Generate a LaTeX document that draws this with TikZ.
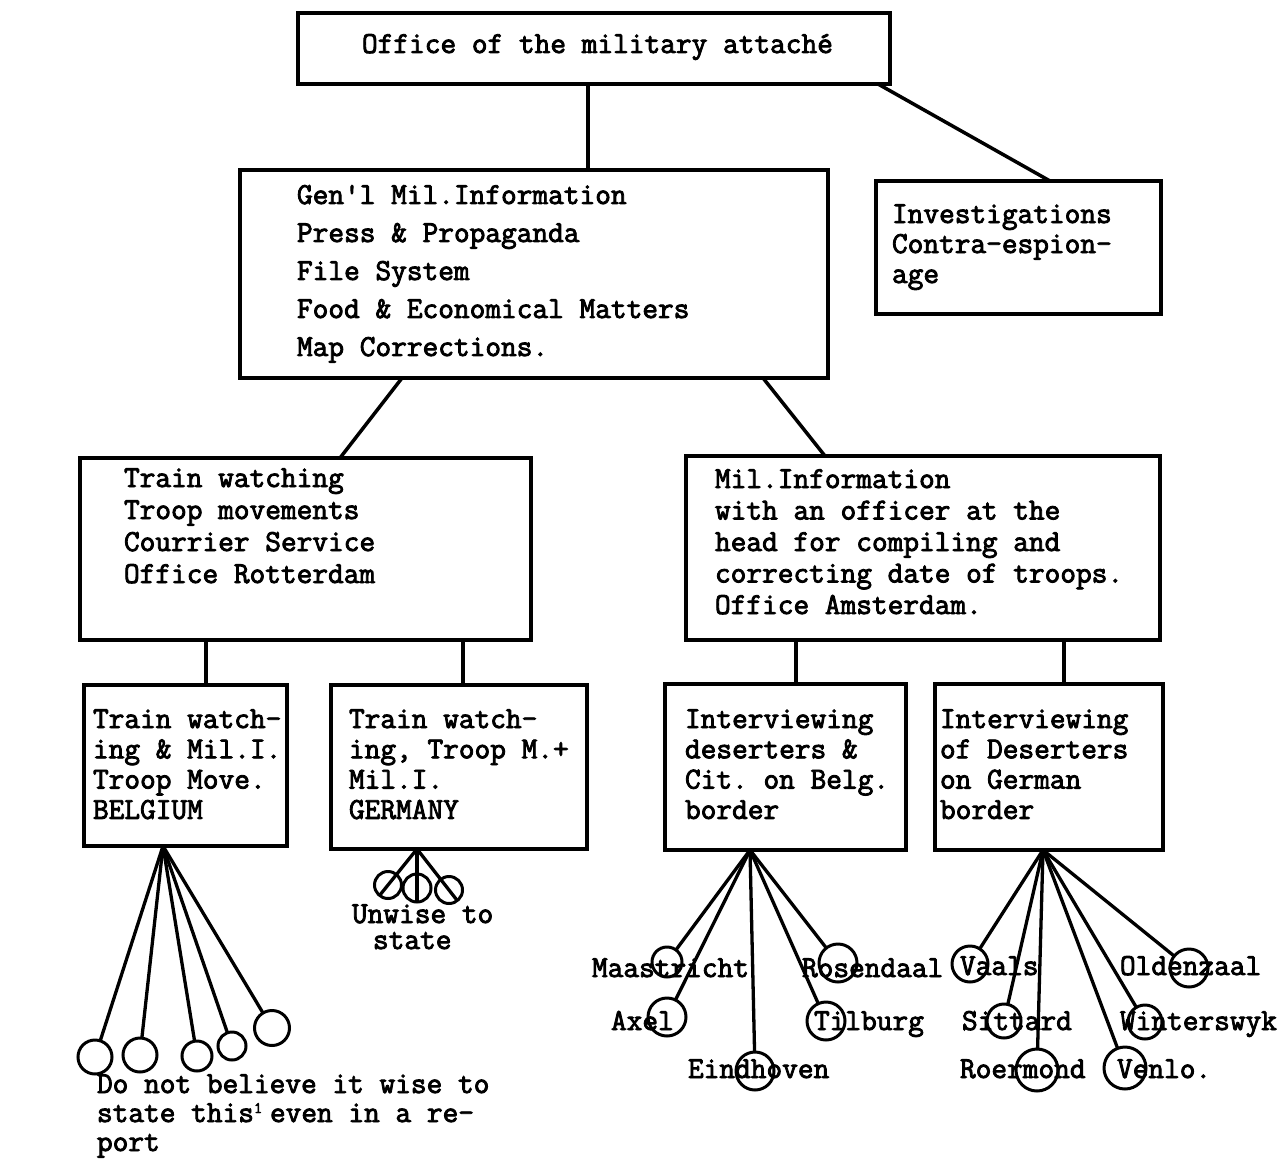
\documentclass[tikz,border=0pt]{standalone}
\usepackage{fontspec}
\newfontfamily\tw{Latin Modern Mono}[FakeBold=2.8]
\usetikzlibrary{calc}
\newcommand\tlines[2]{\vtop{\baselineskip=#1pt\relax\lineskiplimit=-100pt\relax #2}}
\newcommand\supone{\makebox[16pt][l]{\raisebox{9pt}{\fontsize{16}{16}\selectfont 1}}}
\frenchspacing
\begin{document}
\begin{tikzpicture}[x=1pt,y=-1pt,
  box/.style={draw, line width=3.5pt, anchor=north west, inner sep=0pt, outer sep=0pt},
  txt/.style={font=\tw\fontsize{30.48}{32}\selectfont\frenchspacing, inner sep=0pt, outer sep=0pt, anchor=base west},
  conn/.style={line width=3.5pt},
  lf/.style={line width=3.3pt},
  leaf/.style={circle, draw, line width=3pt, inner sep=0pt, outer sep=0pt}]
\useasboundingbox[fill=white] (0,0) rectangle (1279,1161);

% boxes
\node[box, minimum width=592pt, minimum height=71pt] (top) at (298,13) {};
\node[box, minimum width=588pt, minimum height=208pt] (gen) at (240,170) {};
\node[box, minimum width=285pt, minimum height=133pt] (inv) at (876,181) {};
\node[box, minimum width=451pt, minimum height=182pt] (rot) at (80,458) {};
\node[box, minimum width=474pt, minimum height=184pt] (ams) at (686,456) {};
\node[box, minimum width=203pt, minimum height=161pt] (bel) at (84,685) {};
\node[box, minimum width=256pt, minimum height=164pt] (ger) at (331,685) {};
\node[box, minimum width=241pt, minimum height=166pt] (bb) at (665,684) {};
\node[box, minimum width=228pt, minimum height=166pt] (gb) at (935,684) {};

% box texts
\node[txt] (ttop) at (362,53) {Office of the military attach\'e};
\node[txt] (tgen) at (297,204) {\tlines{38}{\hbox{Gen'l Mil.Information}\hbox{Press \& Propaganda}\hbox{File System}\hbox{Food \& Economical Matters}\hbox{Map Corrections.}}};
\node[txt] (tinv) at (892,223) {\tlines{30}{\hbox{Investigations}\hbox{Contra-espion-}\hbox{age}}};
\node[txt] (trot) at (124,487) {\tlines{32}{\hbox{Train watching}\hbox{Troop movements}\hbox{Courrier Service}\hbox{Office Rotterdam}}};
\node[txt] (tams) at (715,488) {\tlines{31.5}{\hbox{Mil.Information}\hbox{with an officer at the}\hbox{head for compiling and}\hbox{correcting date of troops.}\hbox{Office Amsterdam.}}};
\node[txt] (tbel) at (93,728) {\tlines{30.3}{\hbox{Train watch-}\hbox{ing \& Mil.I.}\hbox{Troop Move.}\hbox{BELGIUM}}};
\node[txt] (tger) at (349,728) {\tlines{30.3}{\hbox{Train watch-}\hbox{ing, Troop M.+}\hbox{Mil.I.}\hbox{GERMANY}}};
\node[txt] (tbb) at (685,728) {\tlines{30.3}{\hbox{Interviewing}\hbox{deserters \&}\hbox{Cit. on Belg.}\hbox{border}}};
\node[txt] (tgb) at (940,728) {\tlines{30.3}{\hbox{Interviewing}\hbox{of Deserters}\hbox{on German}\hbox{border}}};

% x positions for connectors
\coordinate (k1) at (588,0);
\coordinate (k2) at (878,0);
\coordinate (k3) at (1050,0);
\coordinate (k4) at (402,0);
\coordinate (k5) at (340,0);
\coordinate (k6) at (763,0);
\coordinate (k7) at (825,0);
\coordinate (k8) at (206,0);
\coordinate (k9) at (463,0);
\coordinate (k10) at (796,0);
\coordinate (k11) at (1064,0);

\draw[conn] (top.south -| k1) -- (gen.north -| k1);
\draw[conn] (top.south -| k2) -- (inv.north -| k3);
\draw[conn] (gen.south -| k4) -- (rot.north -| k5);
\draw[conn] (gen.south -| k6) -- (ams.north -| k7);
\draw[conn] (rot.south -| k8) -- (bel.north -| k8);
\draw[conn] (rot.south -| k9) -- (ger.north -| k9);
\draw[conn] (ams.south -| k10) -- (bb.north -| k10);
\draw[conn] (ams.south -| k11) -- (gb.north -| k11);

% leaf sources
\coordinate (s1) at (163,0);
\coordinate (s2) at (417,0);
\coordinate (s3) at (750,0);
\coordinate (s4) at (1043,0);
\coordinate (bsrc) at (bel.south -| s1);
\coordinate (gsrc) at (ger.south -| s2);
\coordinate (bbsrc) at (bb.south -| s3);
\coordinate (gbsrc) at (gb.south -| s4);

% Belgium leaves
\node[leaf, minimum size=34pt] (b1) at (95,1057) {};
\node[leaf, minimum size=34pt] (b2) at (140,1055) {};
\node[leaf, minimum size=30pt] (b3) at (197,1056) {};
\node[leaf, minimum size=28pt] (b4) at (232,1046) {};
\node[leaf, minimum size=35pt] (b5) at (272,1028) {};
\foreach \n in {b1,b2,b3,b4,b5} \draw[lf] (bsrc) -- (\n);
\node[txt] (tb) at (97,1093) {\tlines{29}{\hbox{Do not believe it wise to}\hbox{state this\supone even in a re-}\hbox{port}}};

% Germany leaves (struck through)
\node[leaf, minimum size=27pt] (g1) at (388,885) {};
\node[leaf, minimum size=28pt] (g2) at (417,888) {};
\node[leaf, minimum size=27pt] (g3) at (449,890) {};
\foreach \n in {g1,g2,g3} \draw[lf] (gsrc) -- ($(\n.center)!-13pt!(gsrc)$);
\node[txt] (tg) at (352,923) {\tlines{26}{\hbox{Unwise to}\hbox{\hspace{21pt}state}}};

% Belgian border leaves
\node[txt] (lmaa) at (592,977) {Maastricht};
\node[txt] (laxe) at (611,1030) {Axel};
\node[txt] (lein) at (688,1078) {Eindhoven};
\node[txt] (lros) at (802,977) {Rosendaal};
\node[txt] (ltil) at (814,1030) {Tilburg};
\node[leaf, minimum size=30pt] (c1) at (667,962) {};
\node[leaf, minimum size=38pt] (c2) at (667,1017) {};
\node[leaf, minimum size=38pt] (c3) at (755,1071) {};
\node[leaf, minimum size=38pt] (c4) at (838,963) {};
\node[leaf, minimum size=38pt] (c5) at (826,1021) {};
\foreach \n in {c1,c2,c3,c4,c5} \draw[lf] (bbsrc) -- (\n);

% German border leaves
\node[txt] (lvaa) at (960,975) {Vaals};
\node[txt] (lsit) at (962,1030) {Sittard};
\node[txt] (lroe) at (960,1078) {Roermond};
\node[txt] (lold) at (1120,975) {Oldenzaal};
\node[txt] (lwin) at (1120,1030) {Winterswyk};
\node[txt] (lven) at (1117,1078) {Venlo.};
\node[leaf, minimum size=36pt] (d1) at (970,964) {};
\node[leaf, minimum size=34pt] (d2) at (1004,1021) {};
\node[leaf, minimum size=42pt] (d3) at (1037,1070) {};
\node[leaf, minimum size=38pt] (d4) at (1189,968) {};
\node[leaf, minimum size=34pt] (d5) at (1145,1022) {};
\node[leaf, minimum size=42pt] (d6) at (1125,1068) {};
\foreach \n in {d1,d2,d3,d4,d5,d6} \draw[lf] (gbsrc) -- (\n);
\end{tikzpicture}
\end{document}
